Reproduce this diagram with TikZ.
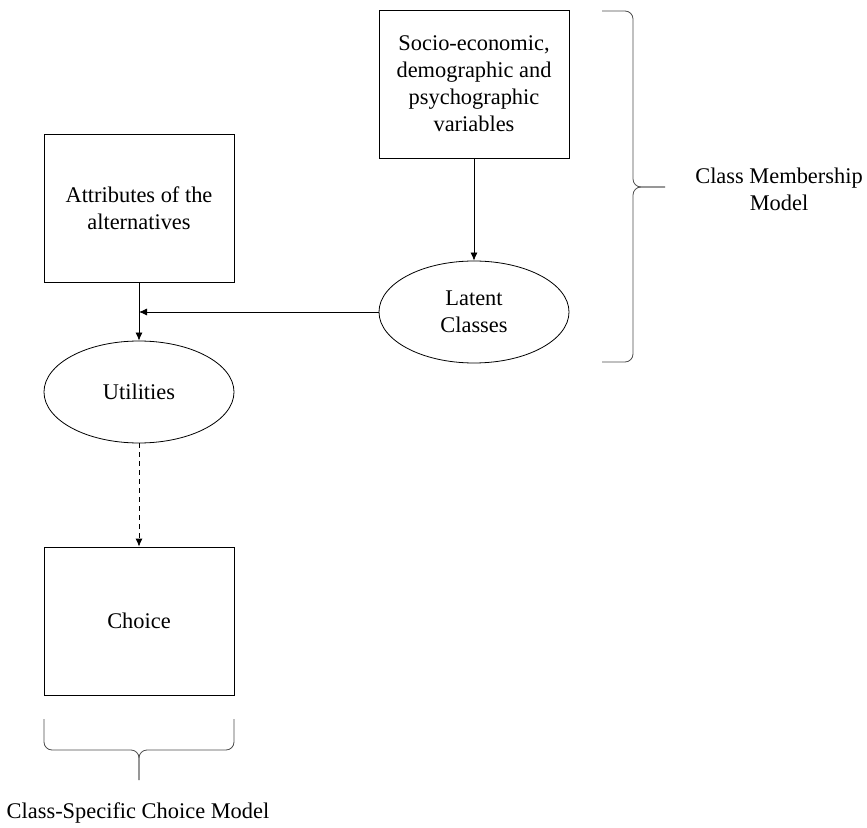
\documentclass[tikz,border=0pt]{standalone}
\usepackage{fontspec}
\setmainfont{Liberation Serif}
\usetikzlibrary{shapes.geometric,arrows.meta}

\begin{document}
\begin{tikzpicture}[x=0.5pt, y=-0.5pt, >={Latex[length=4pt,width=3.5pt]},
    font=\fontsize{11.2}{13.5}\selectfont,
    box/.style={draw, minimum width=95pt, minimum height=74pt, align=center, inner sep=2pt},
    oval/.style={draw, ellipse, minimum width=95pt, minimum height=51pt, align=center, inner sep=0pt},
    curly/.style={draw=black!70, rounded corners=4pt}]
            \useasboundingbox (0,0) rectangle (867,828);

            % Class membership part
            \node[box] (socio) at (474,84) {Socio-economic,\\demographic and\\psychographic\\variables};
            \node[oval] (latent) at (474,312) {Latent\\Classes};

            % Class-specific choice part
            \node[box] (attr) at (139,208) {Attributes of the\\alternatives};
            \node[oval] (util) at (139,392) {Utilities};
            \node[box] (choice) at (139,621) {Choice};

            % Arrows
            \draw[->] (socio) -- (latent);
            \draw[->] (attr) -- (util);
            \draw[->] (latent.west) -- (latent.west -| attr.south);
            \draw[->, dash pattern=on 2.5pt off 2pt] (util) -- (choice);

            % Brace on the right
            \coordinate (cmtip) at (665,187);
            \draw[curly] (602,11) -- (633,11) -- (633,187) -- (cmtip);
            \draw[curly] (cmtip) -- (633,187) -- (633,362) -- (602,362);
            \node[align=center] (cmm) at (779,189) {Class Membership\\Model};

            % Brace below the choice
            \coordinate (cstip) at (139,780);
            \draw[curly] (44,719) -- (44,750) -- (139,750) -- (cstip);
            \draw[curly] (234,719) -- (234,750) -- (139,750) -- (cstip);
            \node (cscm) at (138,813) {Class-Specific Choice Model};
\end{tikzpicture}
\end{document}
